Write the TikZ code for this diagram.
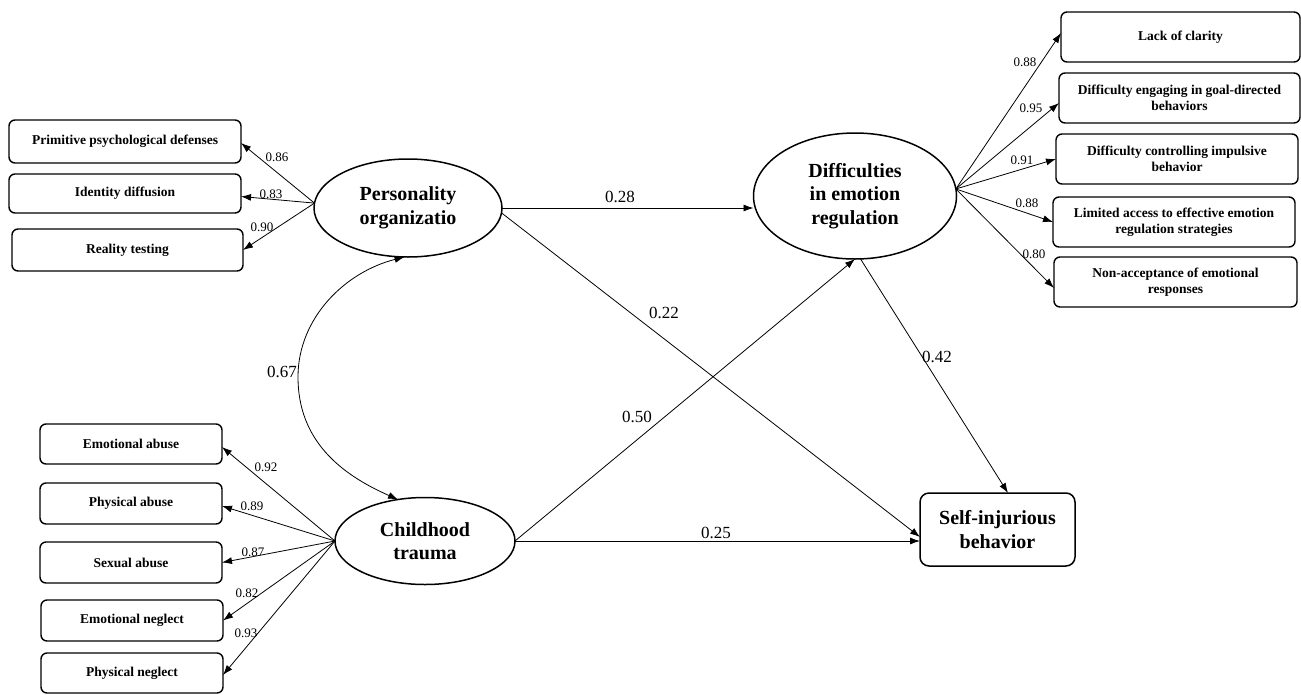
\documentclass[tikz,border=0pt]{standalone}
\usepackage{fontspec}
\setmainfont{Liberation Serif}
\usetikzlibrary{shapes.geometric,arrows.meta,calc}
\begin{document}
\begin{tikzpicture}[x=1pt,y=-1pt,
  latent/.style={ellipse,draw,line width=1.5pt,inner sep=0pt,outer sep=0pt,align=center,
    font=\bfseries\fontsize{20}{23.5}\selectfont},
  indbox/.style={rectangle,rounded corners=6pt,draw,line width=1.4pt,inner sep=0pt,outer sep=0pt,
    align=center,font=\bfseries\fontsize{13.5}{16}\selectfont},
  outbox/.style={rectangle,rounded corners=9pt,draw,line width=1.5pt,inner sep=0pt,outer sep=0pt,
    align=center,font=\bfseries\fontsize{20}{23.5}\selectfont},
  ld/.style={inner sep=0pt,font=\fontsize{13}{15}\selectfont},
  pl/.style={inner sep=0pt,font=\fontsize{17}{20}\selectfont},
  arr/.style={line width=0.8pt,-{Latex[length=10pt,width=7pt]}},
  darr/.style={line width=0.8pt,{Latex[length=10pt,width=7pt]}-{Latex[length=10pt,width=7pt]}}]
\useasboundingbox (0,0) rectangle (1301,694);

% latent variables
\node[latent,minimum width=188pt,minimum height=98pt] (po) at (408,208) {Personality\\organizatio};
\node[latent,minimum width=203pt,minimum height=126pt] (der) at (855,196) {Difficulties\\in emotion\\regulation};
\node[latent,minimum width=180pt,minimum height=87pt] (ct) at (425,541) {Childhood\\trauma};
\node[outbox,minimum width=155pt,minimum height=73pt] (sib) at (997.5,529.5) {Self-injurious\\behavior};

% personality indicators
\node[indbox,minimum width=232pt,minimum height=43pt] (p1) at (125,141.5) {Primitive psychological defenses};
\node[indbox,minimum width=232pt,minimum height=39pt] (p2) at (125,193.5) {Identity diffusion};
\node[indbox,minimum width=231pt,minimum height=42pt] (p3) at (127.5,250) {Reality testing};

% emotion regulation indicators
\node[indbox,minimum width=239pt,minimum height=50pt] (d1) at (1180.5,37) {Lack of clarity};
\node[indbox,minimum width=241pt,minimum height=50pt] (d2) at (1179.5,98) {Difficulty engaging in goal-directed\\behaviors};
\node[indbox,minimum width=242pt,minimum height=50pt] (d3) at (1177,159) {Difficulty controlling impulsive\\behavior};
\node[indbox,minimum width=242pt,minimum height=50pt] (d4) at (1174,222) {Limited access to effective emotion\\regulation strategies};
\node[indbox,minimum width=243pt,minimum height=50pt] (d5) at (1175.5,282) {Non-acceptance of emotional\\responses};

% trauma indicators
\node[indbox,minimum width=182pt,minimum height=40pt] (c1) at (131,444) {Emotional abuse};
\node[indbox,minimum width=182pt,minimum height=41pt] (c2) at (131,503.5) {Physical abuse};
\node[indbox,minimum width=182pt,minimum height=41pt] (c3) at (131,562.5) {Sexual abuse};
\node[indbox,minimum width=182pt,minimum height=41pt] (c4) at (132,620.5) {Emotional neglect};
\node[indbox,minimum width=182pt,minimum height=40pt] (c5) at (132,673) {Physical neglect};

% loadings: personality
\draw[arr] (po.177) -- ($(p1.east)+(0,1.5)$);
\draw[arr] (po.177) -- ($(p2.east)+(0,3)$);
\draw[arr] (po.177) -- (p3.east);
% loadings: DER
\draw[arr] (der.4) -- ($(d1.west)+(0,-4)$);
\draw[arr] (der.4) -- ($(d2.west)+(0,5)$);
\draw[arr] (der.4) -- (d3.west);
\draw[arr] (der.4) -- (d4.west);
\draw[arr] (der.4) -- ($(d5.west)+(0,6)$);
% loadings: trauma
\draw[arr] (ct.west) -- ($(c1.east)+(0,3)$);
\draw[arr] (ct.west) -- ($(c2.east)+(0,2.5)$);
\draw[arr] (ct.west) -- (c3.east);
\draw[arr] (ct.west) -- (c4.east);
\draw[arr] (ct.west) -- ($(c5.east)+(0,2)$);

% structural paths
\draw[arr] (po.east) -- (po.east -| der.west);
\draw[arr] (po.-3) -- ($(sib.west)+(0,7.5)$);
\draw[arr] (ct.east) -- (der.south);
\draw[arr] (ct.east) -- (ct.east -| sib.west);
\draw[arr] (der.275) -- ($(sib.north)+(10.5,0)$);
\draw[darr] (po.266) .. controls (345,272) and (298,318) .. (298,377)
  .. controls (298,440) and (340,474) .. (ct.123);

% loading labels
\node[ld] (l1) at (277,157) {0.86};
\node[ld] (l2) at (271,194) {0.83};
\node[ld] (l3) at (262,227) {0.90};
\node[ld] (l4) at (1025,62) {0.88};
\node[ld] (l5) at (1031,108) {0.95};
\node[ld] (l6) at (1022,160) {0.91};
\node[ld] (l7) at (1027,203) {0.88};
\node[ld] (l8) at (1034,254) {0.80};
\node[ld] (l9) at (266,467) {0.92};
\node[ld] (l10) at (252,506) {0.89};
\node[ld] (l11) at (253,552) {0.87};
\node[ld] (l12) at (247,593) {0.82};
\node[ld] (l13) at (246,633) {0.93};

% path labels
\node[pl] (k1) at (620,197) {0.28};
\node[pl] (k2) at (664,313) {0.22};
\node[pl] (k3) at (637,417) {0.50};
\node[pl] (k4) at (716,533) {0.25};
\node[pl] (k5) at (937,357) {0.42};
\node[pl] (k6) at (282,372) {0.67};
\end{tikzpicture}
\end{document}
